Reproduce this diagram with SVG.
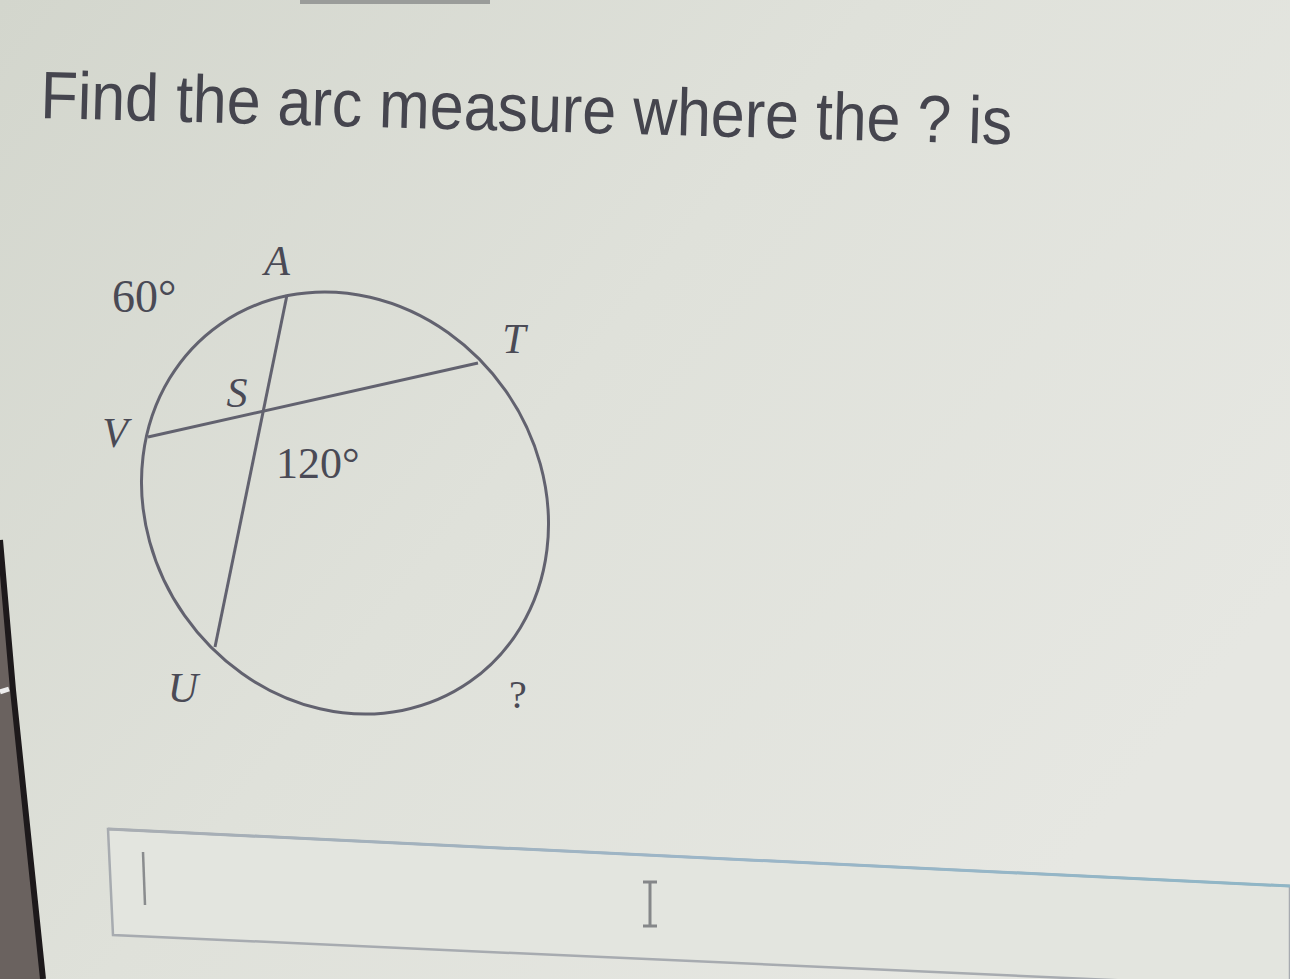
<svg xmlns="http://www.w3.org/2000/svg" width="1290" height="979" viewBox="0 0 1290 979">
  <defs>
    <linearGradient id="bg" x1="0" y1="0" x2="1" y2="0.6">
      <stop offset="0" stop-color="#d3d6cd"/>
      <stop offset="0.5" stop-color="#dfe1da"/>
      <stop offset="1" stop-color="#e6e7e2"/>
    </linearGradient>
    <linearGradient id="boxTop" x1="0" y1="0" x2="1" y2="0">
      <stop offset="0" stop-color="#a9adb2"/>
      <stop offset="0.5" stop-color="#9cb6c8"/>
      <stop offset="1" stop-color="#8fb6c6"/>
    </linearGradient>
  </defs>
  <style>
    .fig { fill: none; stroke: #62626f; stroke-width: 3; }
    .lbl { font-family: "Liberation Serif", "DejaVu Serif", serif; fill: #4a4a55; }
    .it { font-style: italic; }
    .title { font-family: "Liberation Sans", Arial, sans-serif; fill: #45454e; }
  </style>

  <rect x="0" y="0" width="1290" height="979" fill="url(#bg)"/>
  <rect x="300" y="0" width="190" height="4" fill="#9a9c9a"/>

  <g id="title">
    <text class="title" x="40" y="118" font-size="67" textLength="972" lengthAdjust="spacingAndGlyphs" transform="rotate(1.55 40 118)">Find the arc measure where the ? is</text>
  </g>

  <g id="figure">
    <ellipse class="fig" cx="0" cy="0" rx="218" ry="196" transform="translate(345 503) rotate(55)"/>
    <g id="connectors">
      <line class="fig" x1="287" y1="295" x2="215" y2="647"/>
      <line class="fig" x1="148" y1="437" x2="478" y2="363"/>
    </g>
    <g id="labels">
      <text class="lbl it" x="277" y="275" font-size="42" text-anchor="middle">A</text>
      <text class="lbl" x="112" y="312" font-size="46">60°</text>
      <text class="lbl it" x="514" y="353" font-size="42" text-anchor="middle">T</text>
      <text class="lbl it" x="237" y="407" font-size="42" text-anchor="middle">S</text>
      <text class="lbl it" x="115" y="447" font-size="42" text-anchor="middle">V</text>
      <text class="lbl" x="276" y="478" font-size="44">120°</text>
      <text class="lbl it" x="183" y="702" font-size="42" text-anchor="middle">U</text>
      <text class="lbl" x="518" y="708" font-size="40" text-anchor="middle">?</text>
    </g>
  </g>

  <g id="answer-box">
    <polygon points="108,829 1290,886 1290,988 113,935" fill="#e3e5df" stroke="#a7abb0" stroke-width="2.5"/>
    <line x1="108" y1="829" x2="1290" y2="886" stroke="url(#boxTop)" stroke-width="3"/>
    <line x1="143" y1="852" x2="145" y2="905" stroke="#8a8c8e" stroke-width="2.5"/>
    <path d="M650 883 V925 M643 882 H657 M643 926 H657" fill="none" stroke="#858789" stroke-width="3"/>
  </g>

  <g id="bezel">
    <polygon points="0,540 13,690 43,979 0,979" fill="#6a625f"/>
    <polyline points="0,540 13,690 43,979" fill="none" stroke="#1d191b" stroke-width="6"/>
    <line x1="0" y1="692" x2="9" y2="689" stroke="#eeeeee" stroke-width="5"/>
  </g>
</svg>
